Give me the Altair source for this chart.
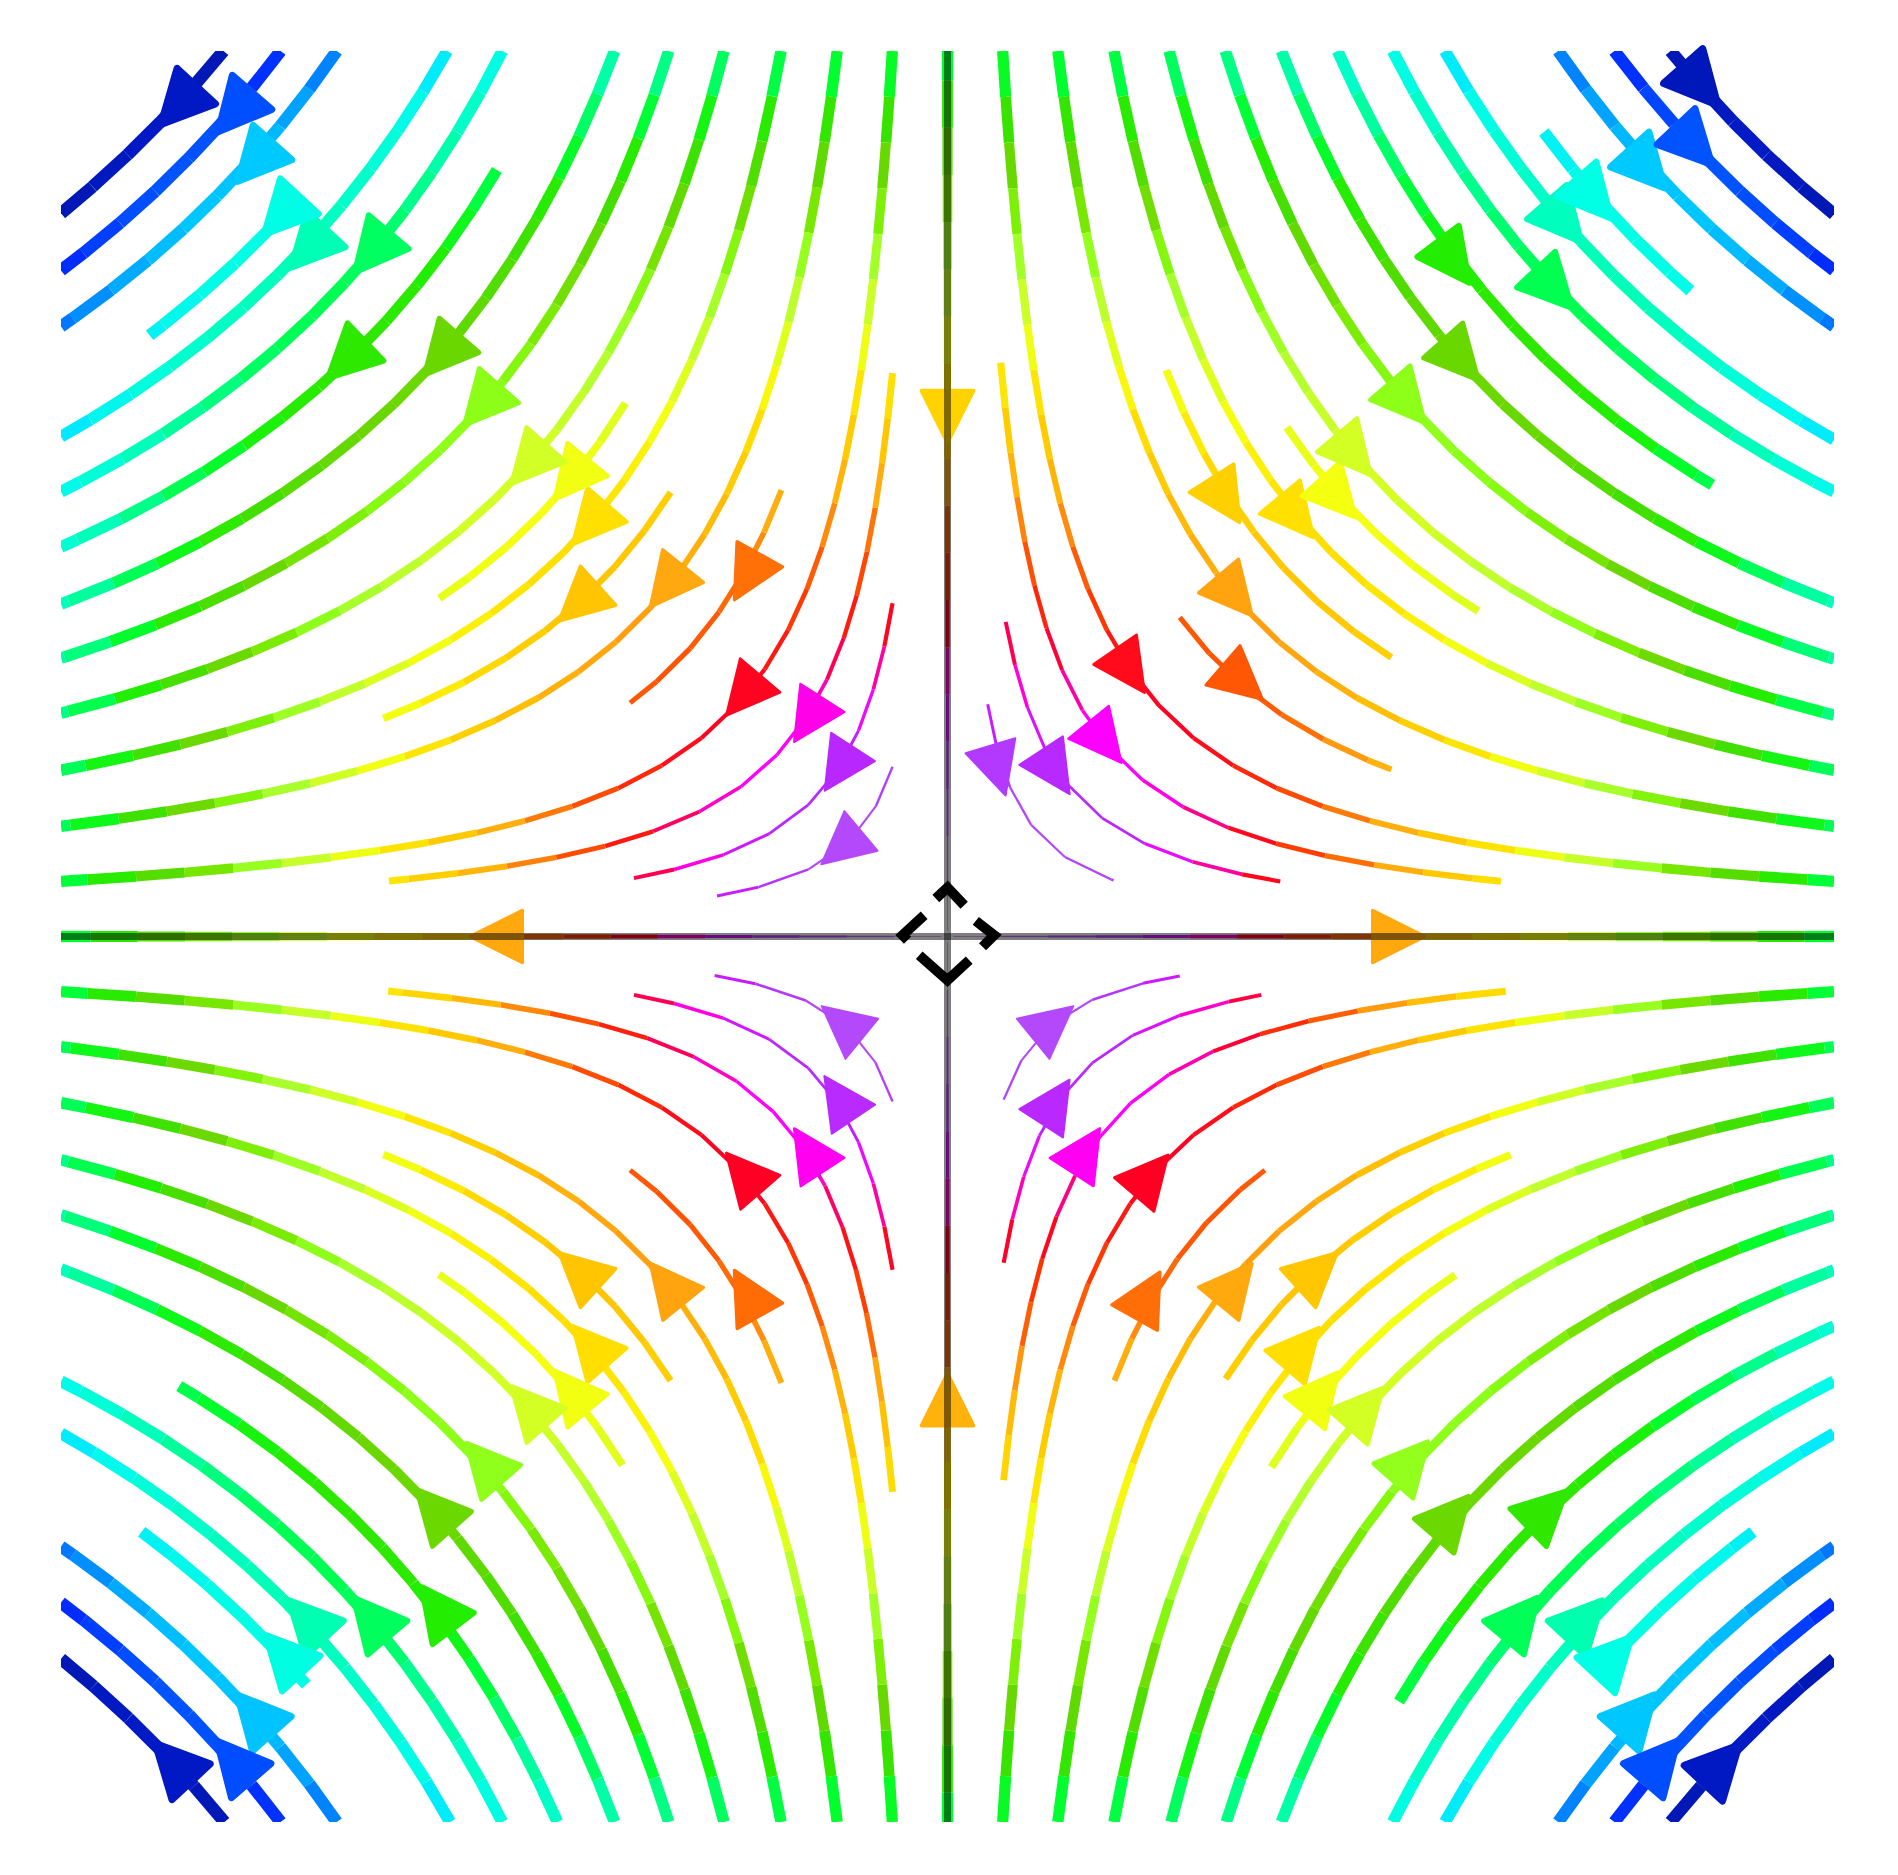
import math
import pandas as pd
import altair as alt

# ---------------------------------------------------------------------------
# Saddle field u = x, v = -y on [-3, 3] x [-3, 3]; each streamline lies on |x*y| = c.
# Per quadrant: c of every drawn line and the |x| where it starts / stops
# (0 = comes in from the top/bottom edge, 3 = leaves through the side edge).
# ---------------------------------------------------------------------------
Q1_C     = [0.107, 0.21, 0.35, 0.56, 0.85, 1.12, 1.42, 1.69, 1.98, 2.25, 2.82, 3.39, 3.96, 4.52, 5.05, 5.5, 6.2, 6.77, 7.34]
Q1_XFROM = [0.136, 0.197, 0.18, 0, 0.786, 0, 0.74, 0, 1.148, 0, 0, 0, 0, 0, 0, 2.018, 0, 0, 0]
Q1_XTO   = [0.562, 1.126, 1.873, 3, 1.502, 3, 1.502, 3, 1.796, 3, 3, 3, 2.588, 3, 3, 2.514, 3, 3, 3]

Q2_C     = [0.107, 0.21, 0.355, 0.56, 0.85, 1.12, 1.41, 1.69, 1.97, 2.27, 2.83, 3.38, 3.96, 4.52, 5.08, 5.5, 6.2, 6.77, 7.35]
Q2_XFROM = [0.186, 0.186, 0.186, 0, 0.562, 0, 0.937, 0, 1.09, 0, 0, 0, 1.525, 0, 0, 2.19, 0, 0, 0]
Q2_XTO   = [0.78, 1.061, 1.89, 3, 1.074, 3, 1.909, 3, 1.72, 3, 3, 3, 3, 3, 3, 2.70, 3, 3, 3]

Q3_C     = [0.104, 0.21, 0.35, 0.56, 0.85, 1.12, 1.41, 1.69, 1.97, 2.27, 2.83, 3.38, 3.96, 4.52, 5.05, 5.5, 6.2, 6.77, 7.34]
Q3_XFROM = [0.186, 0.186, 0.186, 0, 0.562, 0, 0.937, 0, 1.10, 0, 0, 0, 0, 0, 0, 2.17, 0, 0, 0]
Q3_XTO   = [0.788, 1.061, 1.893, 3, 1.074, 3, 1.909, 3, 1.721, 3, 3, 3, 2.60, 3, 3, 2.727, 3, 3, 3]

Q4_C     = [0.105, 0.21, 0.35, 0.56, 0.85, 1.12, 1.41, 1.69, 1.97, 2.27, 2.83, 3.39, 3.96, 4.52, 5.05, 5.5, 6.2, 6.77, 7.34]
Q4_XFROM = [0.19, 0.19, 0.19, 0, 0.565, 0, 0.941, 0, 1.096, 0, 0, 0, 1.528, 0, 0, 2.19, 0, 0, 0]
Q4_XTO   = [0.786, 1.062, 1.89, 3, 1.074, 3, 1.906, 3, 1.718, 3, 3, 3, 3, 3, 3, 2.726, 3, 3, 3]

QUADRANTS = [
    ((1, 1), Q1_C, Q1_XFROM, Q1_XTO),
    ((-1, 1), Q2_C, Q2_XFROM, Q2_XTO),
    ((-1, -1), Q3_C, Q3_XFROM, Q3_XTO),
    ((1, -1), Q4_C, Q4_XFROM, Q4_XTO),
]

# arrowhead centres
ARROW_X = [0.171, 0.365, 0.533, 0.617, 0.999, 0.974, 0.941, 1.181, 1.323, 1.375, 1.556, 1.736, 1.713, 2.052, 2.086, 2.187, 2.368, 2.526, 2.548,
           -0.360, -0.3675, -0.471, -0.691, -0.678, -0.950, -1.248, -1.210, -1.274, -1.417, -1.576, -1.711, -2.033, -1.948, -2.162, -2.253, -2.343, -2.411, -2.602,
           -0.358, -0.3675, -0.471, -0.691, -0.678, -0.950, -1.248, -1.210, -1.274, -1.417, -1.569, -1.736, -1.726, -1.952, -2.168, -2.247, -2.345, -2.414, -2.620,
           0.358, 0.365, 0.468, 0.689, 0.676, 0.974, 1.252, 1.200, 1.265, 1.414, 1.567, 1.705, 2.029, 1.940, 2.156, 2.254, 2.333, 2.412, 2.618,
           1.527, -1.527, 0.0, 0.0]
ARROW_Y = [0.562, 0.556, 0.657, 0.899, 0.861, 1.154, 1.478, 1.421, 1.485, 1.631, 1.809, 1.953, 2.285, 2.195, 2.421, 2.50, 2.601, 2.68, 2.883,
           0.301, 0.568, 0.734, 0.817, 1.218, 1.186, 1.129, 1.396, 1.548, 1.600, 1.80, 1.970, 1.953, 2.319, 2.331, 2.443, 2.624, 2.793, 2.816,
           -0.291, -0.546, -0.724, -0.800, -1.208, -1.176, -1.132, -1.386, -1.539, -1.590, -1.783, -1.941, -2.274, -2.308, -2.314, -2.432, -2.635, -2.793, -2.799,
           -0.291, -0.559, -0.724, -0.807, -1.214, -1.176, -1.132, -1.393, -1.545, -1.596, -1.778, -1.964, -1.941, -2.308, -2.314, -2.438, -2.635, -2.793, -2.804,
           0.0, 0.0, 1.761, -1.569]

# colour by speed (|v| = distance from the saddle)
SPEED_STOPS = [0.0, 0.35, 0.55, 0.7, 0.85, 0.97, 1.06, 1.2, 1.38, 1.52, 1.7, 1.85, 1.99, 2.13, 2.27, 2.39,
               2.5, 2.61, 2.75, 2.86, 2.95, 3.02, 3.1, 3.2, 3.32, 3.42, 3.52, 3.6, 3.68, 3.76, 3.85, 4.0, 4.25]
SPEED_COLORS = ["#d9b3f5", "#b955f5", "#b040ff", "#bb22ff", "#ff00ff", "#ff0080", "#ff0022", "#ff3300",
                "#ff6a06", "#ffa810", "#ffc800", "#ffe000", "#f5ff10", "#d4ff25", "#b0ff30", "#8cff18",
                "#78e800", "#6ad800", "#40e000", "#22ee00", "#00ff30", "#00ff5a", "#00ff90", "#00ffc0",
                "#00ffe5", "#00e8ff", "#00c8ff", "#0090ff", "#0055ff", "#0020ff", "#0018b8", "#002299", "#002080"]
# line width (px) against speed
WIDTH_STOPS = [0.0, 0.5, 1.2, 2.0, 3.0, 4.25]
WIDTH_PX = [0.6, 2.2, 4.6, 7.6, 11.5, 13.0]

# ---------------------------------------------------------------------------
STEP = 0.16
seg_rows = []


def add_seg(x0, y0, x1, y1):
    xm, ym = (x0 + x1) / 2, (y0 + y1) / 2
    seg_rows.append(dict(x=x0, y=y0, x2=x1, y2=y1, speed=math.hypot(xm, ym)))


for (sx, sy), cs, xf, xt in QUADRANTS:
    for c, a, b in zip(cs, xf, xt):
        xa = max(a, c / 3.0)
        xb = min(b, 3.0)
        t, tb = math.log(xa), math.log(xb)
        pts = []
        while t < tb - 1e-9:
            x = math.exp(t)
            pts.append(x)
            t += STEP / math.hypot(x, c / x)
        pts.append(xb)
        for p0, p1 in zip(pts[:-1], pts[1:]):
            add_seg(sx * p0, sy * c / p0, sx * p1, sy * c / p1)

# the two separatrices along the axes
for dx, dy in [(1, 0), (-1, 0), (0, 1), (0, -1)]:
    u = 0.02
    while u < 3.0 - 1e-9:
        u2 = min(u + STEP, 3.0)
        add_seg(dx * u, dy * u, dx * u2, dy * u2)
        u = u2

seg_df = pd.DataFrame(seg_rows)

arrow_df = pd.DataFrame({"x": ARROW_X, "y": ARROW_Y})
arrow_df["speed"] = [math.hypot(x, y) for x, y in zip(ARROW_X, ARROW_Y)]
arrow_df["angle"] = [(math.degrees(math.atan2(x, -y)) + 360.0) % 360.0 for x, y in zip(ARROW_X, ARROW_Y)]

axis_df = pd.DataFrame({"x": [-3.0, 0.0], "x2": [3.0, 0.0], "y": [0.0, -3.0], "y2": [0.0, 3.0]})
fixed_df = pd.DataFrame({"x": [0.0], "y": [0.0]})

xscale = alt.Scale(domain=[-3, 3], nice=False, zero=False)
yscale = alt.Scale(domain=[-3, 3], nice=False, zero=False)
cscale = alt.Scale(domain=SPEED_STOPS, range=SPEED_COLORS, interpolate="rgb")
wscale = alt.Scale(domain=WIDTH_STOPS, range=WIDTH_PX)
ascale = alt.Scale(domain=[0, 4.25], range=[1.0, 8.0])

X = alt.X("x:Q", scale=xscale, axis=None)
Y = alt.Y("y:Q", scale=yscale, axis=None)

lines = alt.Chart(seg_df).mark_rule(clip=True, strokeCap="butt").encode(
    x=X, y=Y, x2="x2:Q", y2="y2:Q",
    color=alt.Color("speed:Q", scale=cscale, legend=None),
    strokeWidth=alt.StrokeWidth("speed:Q", scale=wscale, legend=None),
)

ARROW_PATH = "M0,-1L1,1L-1,1Z"
arrows = alt.Chart(arrow_df).mark_point(
    shape=ARROW_PATH, filled=True, size=2704, strokeJoin="round", opacity=1
).encode(
    x=X, y=Y,
    fill=alt.Fill("speed:Q", scale=cscale, legend=None),
    stroke=alt.Stroke("speed:Q", scale=cscale, legend=None),
    strokeWidth=alt.StrokeWidth("speed:Q", scale=ascale, legend=None),
    angle=alt.Angle("angle:Q", scale=None),
)

axes_lines = alt.Chart(axis_df).mark_rule(color="black", opacity=0.5, strokeWidth=7).encode(
    x=X, y=Y, x2="x2:Q", y2="y2:Q"
)

SADDLE_PATH = ("M-0.254,-0.826L0,-1.065L0.363,-0.680"
               "M0.615,-0.341L1.015,-0.028L0.761,0.224"
               "M-0.615,0.407L0,0.950L0.472,0.515"
               "M-0.507,-0.463L-0.978,-0.028L-0.870,0.080")
saddle = alt.Chart(fixed_df).mark_point(
    shape=SADDLE_PATH, filled=False, color="black", stroke="black", strokeWidth=10,
    size=8464, opacity=1, strokeJoin="miter", strokeCap="butt"
).encode(x=X, y=Y)

chart = alt.layer(lines, arrows, axes_lines, saddle).properties(
    width=1773, height=1771,
    padding={"left": 61, "top": 51, "right": 64, "bottom": 53},
    autosize=alt.AutoSizeParams(type="none"),
    background="white",
).configure_view(stroke=None).resolve_scale(strokeWidth="independent")

chart.save("out.html", embed_options={"renderer": "svg", "actions": False})
